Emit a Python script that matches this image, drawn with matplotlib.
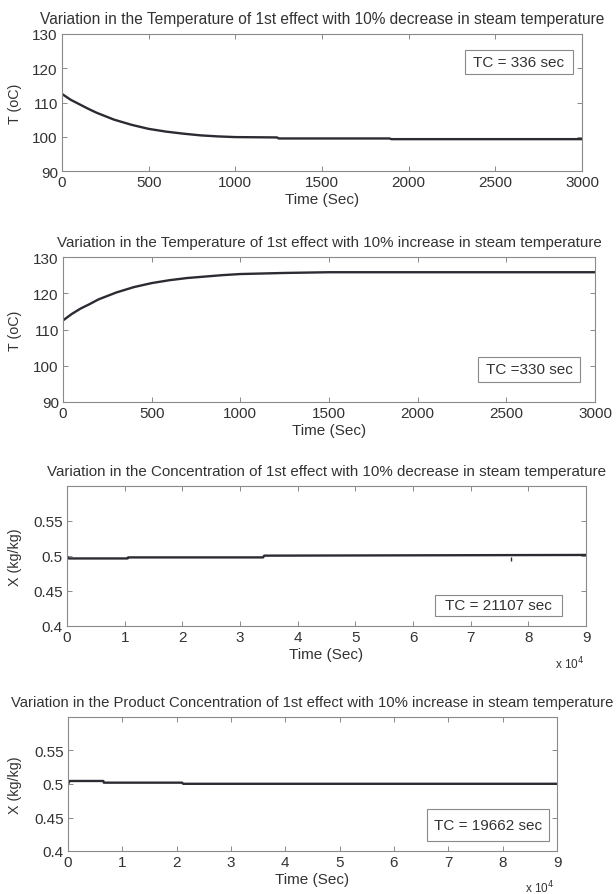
import matplotlib
matplotlib.use("Agg")
import matplotlib.pyplot as plt
from matplotlib.patches import Rectangle

plt.rcParams['font.family'] = ['Liberation Sans', 'DejaVu Sans']

# ---------------- data ----------------
t1 = [0, 50, 100, 150, 200, 300, 400, 500, 600, 700, 800, 900, 1000, 1240, 1250, 1890, 1900, 2500, 3000]
T1 = [112.5, 110.8, 109.5, 108.2, 107.0, 105.0, 103.5, 102.3, 101.5, 100.9, 100.4, 100.1, 99.9, 99.8, 99.5, 99.5, 99.3, 99.3, 99.3]

t2 = [0, 50, 100, 150, 200, 300, 400, 500, 600, 700, 800, 900, 1000, 1250, 1500, 2000, 3000]
T2 = [112.5, 114.3, 115.8, 117.0, 118.3, 120.2, 121.7, 122.8, 123.6, 124.2, 124.6, 125.0, 125.3, 125.6, 125.8, 125.8, 125.8]

t3 = [0, 300, 10500, 10600, 34000, 34200, 90000]
X3 = [0.499, 0.4965, 0.4965, 0.498, 0.498, 0.5005, 0.5015]
mark3_t = [77000]
mark3_x = [0.4955]

t4 = [0, 300, 6500, 6600, 21000, 21200, 90000]
X4 = [0.500, 0.5045, 0.5045, 0.502, 0.502, 0.5003, 0.5003]

titles = [
    "Variation in the Temperature of 1st effect with 10% decrease in steam temperature",
    "Variation in the Temperature of 1st effect with 10% increase in steam temperature",
    "Variation in the Concentration of 1st effect with 10% decrease in steam temperature",
    "Variation in the Product Concentration of 1st effect with 10% increase in steam temperature",
]
tc_labels = ["TC = 336 sec", "TC =330 sec", "TC = 21107 sec", "TC = 19662 sec"]
temp_xticks = [0, 500, 1000, 1500, 2000, 2500, 3000]
temp_yticks = [90, 100, 110, 120, 130]
conc_xticks = [0, 10000, 20000, 30000, 40000, 50000, 60000, 70000, 80000, 90000]
conc_xticklabels = ["0", "1", "2", "3", "4", "5", "6", "7", "8", "9"]
conc_yticks = [0.4, 0.45, 0.5, 0.55]
conc_yticklabels = ["0.4", "0.45", "0.5", "0.55"]

# ---------------- layout (pixels) ----------------
W, H = 616, 895
fig = plt.figure(figsize=(W / 100, H / 100), dpi=100)

def add_ax(l, r, t, b):
    return fig.add_axes([l / W, 1 - b / H, (r - l) / W, (b - t) / H])

LINE = '#2b2b33'
SPINE = '#8a8a8a'
TXT = '#333333'
FS = 11
TITLE_FS = [11.2, 10.9, 10.9, 10.7]

def style(ax):
    for s in ax.spines.values():
        s.set_color(SPINE)
        s.set_linewidth(0.8)
    ax.tick_params(direction='in', length=3.5, width=0.7, color=SPINE,
                   top=True, right=True, labelsize=FS, labelcolor=TXT, pad=3)

def add_box(ax, rect_px, box_px, label):
    l, r, t, b = rect_px
    bl, br, bt, bb = box_px
    x0 = (bl - l) / (r - l)
    x1 = (br - l) / (r - l)
    y0 = (b - bb) / (b - t)
    y1 = (b - bt) / (b - t)
    ax.add_patch(Rectangle((x0, y0), x1 - x0, y1 - y0, transform=ax.transAxes,
                           facecolor='white', edgecolor=SPINE, linewidth=0.8, zorder=5))
    ax.text((x0 + x1) / 2, (y0 + y1) / 2, label, transform=ax.transAxes,
            ha='center', va='center', fontsize=FS, color=TXT, zorder=6)

rects = [(62, 582, 35, 172), (63, 595, 258, 403), (67, 586, 487, 627), (68, 557, 718, 852)]
boxes = [(465, 573, 51, 75), (478, 580, 358, 383), (435, 562, 596, 617), (427, 549, 810, 842)]
series = [(t1, T1), (t2, T2), (t3, X3), (t4, X4)]

for i, (rect, box, (tx, yv)) in enumerate(zip(rects, boxes, series)):
    ax = add_ax(*rect)
    style(ax)
    ax.plot(tx, yv, color=LINE, lw=1.7, solid_joinstyle='round')
    if i < 2:
        ax.set_xlim(0, 3000)
        ax.set_ylim(90, 130)
        ax.set_xticks(temp_xticks)
        ax.set_yticks(temp_yticks)
        ax.set_ylabel("T (oC)", fontsize=10.3, color=TXT)
    else:
        ax.set_xlim(0, 90000)
        ax.set_ylim(0.4, 0.6)
        ax.set_xticks(conc_xticks)
        ax.set_xticklabels(conc_xticklabels)
        ax.set_yticks(conc_yticks)
        ax.set_yticklabels(conc_yticklabels)
        ax.set_ylabel("X (kg/kg)", fontsize=10.3, color=TXT)
    if i == 2:
        ax.plot(mark3_t, mark3_x, marker='|', ms=3, color=LINE, lw=0)
    ax.set_xlabel("Time (Sec)", fontsize=FS, color=TXT, labelpad=2)
    ax.set_title(titles[i], fontsize=TITLE_FS[i], color=TXT, pad=8)
    l, r, t, b = rect
    ax.yaxis.set_label_coords((22 - l) / (r - l), 0.5)
    add_box(ax, rect, box, tc_labels[i])

fig.text(570 / W, 1 - 664 / H, r"x 10$^{4}$", fontsize=8.5, color=TXT, ha='center', va='center')
fig.text(540 / W, 1 - 888 / H, r"x 10$^{4}$", fontsize=8.5, color=TXT, ha='center', va='center')

fig.savefig("out.png", dpi=100, facecolor='white')
